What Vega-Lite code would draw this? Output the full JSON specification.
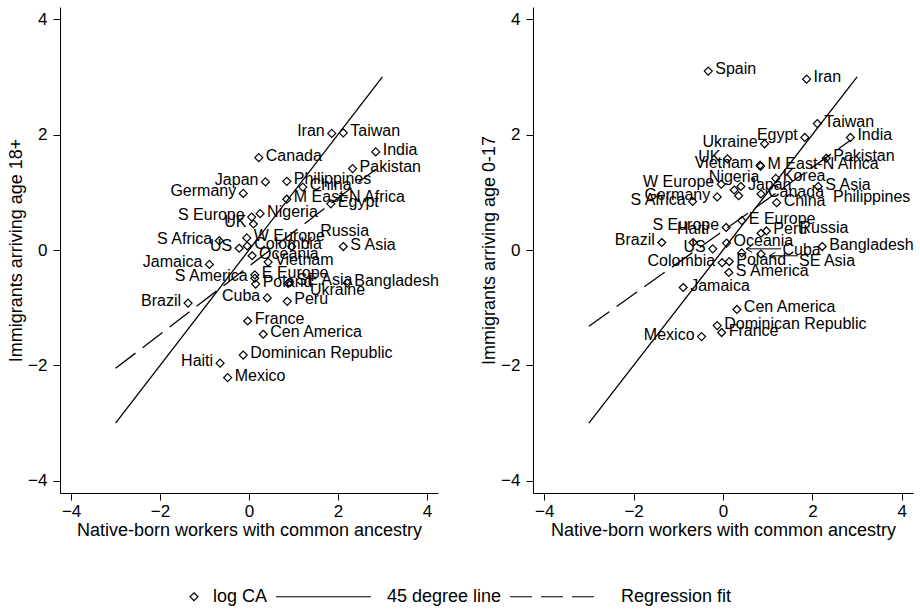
{
  "$schema": "https://vega.github.io/schema/vega-lite/v6.json",
  "padding": {"left": 7, "top": 7, "right": 0, "bottom": 0},
  "spacing": 95,
  "bounds": "flush",
  "datasets": {
    "pts": [
      {"p": "18+", "c": "Iran", "x": 1.86, "y": 2.02, "pos": 9},
      {"p": "18+", "c": "Taiwan", "x": 2.12, "y": 2.03, "pos": 3},
      {"p": "18+", "c": "India", "x": 2.85, "y": 1.70, "pos": 3},
      {"p": "18+", "c": "Canada", "x": 0.22, "y": 1.60, "pos": 3},
      {"p": "18+", "c": "Pakistan", "x": 2.33, "y": 1.41, "pos": 3},
      {"p": "18+", "c": "Japan", "x": 0.37, "y": 1.18, "pos": 9},
      {"p": "18+", "c": "Philippines", "x": 0.85, "y": 1.19, "pos": 3},
      {"p": "18+", "c": "China", "x": 1.21, "y": 1.09, "pos": 3},
      {"p": "18+", "c": "Germany", "x": -0.13, "y": 0.98, "pos": 9},
      {"p": "18+", "c": "M East-N Africa", "x": 0.85, "y": 0.88, "pos": 3},
      {"p": "18+", "c": "Egypt", "x": 1.84, "y": 0.80, "pos": 3},
      {"p": "18+", "c": "S Europe", "x": 0.06, "y": 0.57, "pos": 9},
      {"p": "18+", "c": "Nigeria", "x": 0.25, "y": 0.63, "pos": 3},
      {"p": "18+", "c": "UK", "x": 0.10, "y": 0.45, "pos": 9},
      {"p": "18+", "c": "W Europe", "x": -0.05, "y": 0.21, "pos": 3},
      {"p": "18+", "c": "Russia", "x": 0.96, "y": 0.06, "pos": 0},
      {"p": "18+", "c": "S Africa", "x": -0.67, "y": 0.16, "pos": 9},
      {"p": "18+", "c": "S Asia", "x": 2.12, "y": 0.06, "pos": 3},
      {"p": "18+", "c": "Colombia", "x": -0.04, "y": 0.07, "pos": 3},
      {"p": "18+", "c": "US", "x": -0.22, "y": 0.03, "pos": 9},
      {"p": "18+", "c": "Oceania", "x": 0.07, "y": -0.10, "pos": 3},
      {"p": "18+", "c": "Jamaica", "x": -0.89, "y": -0.25, "pos": 9},
      {"p": "18+", "c": "Vietnam", "x": 0.43, "y": -0.21, "pos": 3},
      {"p": "18+", "c": "E Europe", "x": 0.13, "y": -0.43, "pos": 3},
      {"p": "18+", "c": "S America", "x": 0.13, "y": -0.49, "pos": 9},
      {"p": "18+", "c": "SE Asia", "x": 0.91, "y": -0.56, "pos": 3},
      {"p": "18+", "c": "Ukraine", "x": 0.88, "y": -0.58, "pos": 0},
      {"p": "18+", "c": "Bangladesh", "x": 2.21, "y": -0.57, "pos": 3},
      {"p": "18+", "c": "Poland", "x": 0.15, "y": -0.59, "pos": 3},
      {"p": "18+", "c": "Cuba", "x": 0.41, "y": -0.83, "pos": 9},
      {"p": "18+", "c": "Peru", "x": 0.86, "y": -0.89, "pos": 3},
      {"p": "18+", "c": "Brazil", "x": -1.37, "y": -0.92, "pos": 9},
      {"p": "18+", "c": "France", "x": -0.03, "y": -1.23, "pos": 3},
      {"p": "18+", "c": "Cen America", "x": 0.32, "y": -1.46, "pos": 3},
      {"p": "18+", "c": "Dominican Republic", "x": -0.13, "y": -1.82, "pos": 3},
      {"p": "18+", "c": "Haiti", "x": -0.65, "y": -1.96, "pos": 9},
      {"p": "18+", "c": "Mexico", "x": -0.48, "y": -2.21, "pos": 3},
      {"p": "0-17", "c": "Spain", "x": -0.33, "y": 3.10, "pos": 3},
      {"p": "0-17", "c": "Iran", "x": 1.87, "y": 2.96, "pos": 3},
      {"p": "0-17", "c": "Taiwan", "x": 2.11, "y": 2.19, "pos": 3},
      {"p": "0-17", "c": "Egypt", "x": 1.83, "y": 1.95, "pos": 9},
      {"p": "0-17", "c": "India", "x": 2.85, "y": 1.95, "pos": 3},
      {"p": "0-17", "c": "Ukraine", "x": 0.93, "y": 1.84, "pos": 9},
      {"p": "0-17", "c": "Pakistan", "x": 2.31, "y": 1.59, "pos": 3},
      {"p": "0-17", "c": "UK", "x": 0.10, "y": 1.58, "pos": 9},
      {"p": "0-17", "c": "Vietnam", "x": 0.83, "y": 1.47, "pos": 9},
      {"p": "0-17", "c": "M East-N Africa", "x": 0.84, "y": 1.45, "pos": 3},
      {"p": "0-17", "c": "Korea", "x": 1.18, "y": 1.24, "pos": 3},
      {"p": "0-17", "c": "S Asia", "x": 2.13, "y": 1.10, "pos": 3},
      {"p": "0-17", "c": "W Europe", "x": -0.04, "y": 1.14, "pos": 9},
      {"p": "0-17", "c": "Nigeria", "x": 0.25, "y": 1.04, "pos": 12},
      {"p": "0-17", "c": "Japan", "x": 0.40, "y": 1.10, "pos": 3},
      {"p": "0-17", "c": "Germany", "x": -0.13, "y": 0.92, "pos": 9},
      {"p": "0-17", "c": "S Africa", "x": -0.68, "y": 0.84, "pos": 9},
      {"p": "0-17", "c": "Canada", "x": 0.85, "y": 0.97, "pos": 3},
      {"p": "0-17", "c": "Philippines", "x": 0.35, "y": 0.94, "pos": 0},
      {"p": "0-17", "c": "China", "x": 1.20, "y": 0.82, "pos": 3},
      {"p": "0-17", "c": "S Europe", "x": 0.07, "y": 0.39, "pos": 9},
      {"p": "0-17", "c": "E Europe", "x": 0.42, "y": 0.51, "pos": 3},
      {"p": "0-17", "c": "Haiti", "x": -0.67, "y": 0.13, "pos": 12},
      {"p": "0-17", "c": "Brazil", "x": -1.37, "y": 0.13, "pos": 9},
      {"p": "0-17", "c": "Peru", "x": 0.97, "y": 0.33, "pos": 3},
      {"p": "0-17", "c": "Russia", "x": 0.85, "y": 0.29, "pos": 0},
      {"p": "0-17", "c": "Oceania", "x": 0.08, "y": 0.12, "pos": 3},
      {"p": "0-17", "c": "US", "x": -0.23, "y": 0.02, "pos": 9},
      {"p": "0-17", "c": "Cuba", "x": 0.42, "y": -0.05, "pos": 0},
      {"p": "0-17", "c": "SE Asia", "x": 0.85, "y": -0.07, "pos": 0},
      {"p": "0-17", "c": "Bangladesh", "x": 2.22, "y": 0.06, "pos": 3},
      {"p": "0-17", "c": "Colombia", "x": -0.02, "y": -0.22, "pos": 9},
      {"p": "0-17", "c": "Poland", "x": 0.14, "y": -0.20, "pos": 3},
      {"p": "0-17", "c": "S America", "x": 0.13, "y": -0.39, "pos": 3},
      {"p": "0-17", "c": "Jamaica", "x": -0.89, "y": -0.65, "pos": 3},
      {"p": "0-17", "c": "Cen America", "x": 0.31, "y": -1.03, "pos": 3},
      {"p": "0-17", "c": "Dominican Republic", "x": -0.13, "y": -1.31, "pos": 3},
      {"p": "0-17", "c": "France", "x": -0.03, "y": -1.43, "pos": 3},
      {"p": "0-17", "c": "Mexico", "x": -0.48, "y": -1.50, "pos": 9}
    ],
    "tags": [
      {"p": "18+", "c": "Russia", "x": 1.60, "y": 0.33},
      {"p": "18+", "c": "Ukraine", "x": 1.37, "y": -0.69},
      {"p": "0-17", "c": "Russia", "x": 1.71, "y": 0.38},
      {"p": "0-17", "c": "Philippines", "x": 2.46, "y": 0.92},
      {"p": "0-17", "c": "Cuba", "x": 1.33, "y": 0.0},
      {"p": "0-17", "c": "SE Asia", "x": 1.70, "y": -0.19}
    ],
    "arrows": [
      {"p": "0-17", "c": "Cuba", "x": 0.52, "y": 0.02, "x2": 1.30, "y2": 0.02},
      {"p": "0-17", "c": "SE Asia", "x": 1.04, "y": -0.10, "x2": 1.68, "y2": -0.10}
    ],
    "lines": [
      {"p": "18+", "s": "45 degree line", "x": -3, "y": -3},
      {"p": "18+", "s": "45 degree line", "x": 3, "y": 3},
      {"p": "18+", "s": "Regression fit", "x": -3, "y": -2.05},
      {"p": "18+", "s": "Regression fit", "x": 2.85, "y": 1.40},
      {"p": "0-17", "s": "45 degree line", "x": -3, "y": -3},
      {"p": "0-17", "s": "45 degree line", "x": 3, "y": 3},
      {"p": "0-17", "s": "Regression fit", "x": -3, "y": -1.32},
      {"p": "0-17", "s": "Regression fit", "x": 2.85, "y": 1.90}
    ]
  },
  "resolve": {"scale": {"shape": "shared"}, "legend": {"shape": "shared"}},
  "hconcat": [
    {
      "width": 378,
      "height": 486,
      "encoding": {
        "x": {"field": "x", "type": "quantitative", "scale": {"domain": [-4.25, 4.25], "nice": false, "zero": false}, "axis": {"values": [-4, -2, 0, 2, 4], "title": "Native-born workers with common ancestry"}},
        "y": {"field": "y", "type": "quantitative", "scale": {"domain": [-4.21, 4.21], "nice": false, "zero": false}, "axis": {"values": [-4, -2, 0, 2, 4], "title": "Immigrants arriving age 18+"}}
      },
      "layer": [
        {"data": {"name": "lines"}, "transform": [{"filter": "datum.p === '18+' && datum.s === '45 degree line'"}], "mark": {"type": "line", "color": "black", "strokeWidth": 1.3}},
        {"data": {"name": "lines"}, "transform": [{"filter": "datum.p === '18+' && datum.s === 'Regression fit'"}], "mark": {"type": "line", "color": "black", "strokeWidth": 1.3, "strokeDash": [25, 9]}},
        {"data": {"name": "pts"}, "transform": [{"filter": "datum.p === '18+'"}], "mark": {"type": "point", "filled": false, "stroke": "black", "strokeWidth": 1.2, "opacity": 1, "size": 9025, "xOffset": -44.5},
         "encoding": {"shape": {"datum": "log CA", "type": "nominal", "scale": {"domain": ["log CA", "45 degree line", "Regression fit"], "range": ["M0.937,-0.084L1.021,0L0.937,0.084L0.853,0Z", "M-1,0H1", "M-1,0H-0.537M-0.347,0H0.116M0.305,0H0.768"]},
           "legend": {"title": null, "orient": "none", "legendX": 41, "legendY": 541, "direction": "horizontal", "columns": 3, "symbolSize": 9025, "labelOffset": 15, "columnPadding": 5, "labelFontSize": 18, "labelFont": "Liberation Sans", "labelColor": "black", "symbolStrokeWidth": 1.2, "symbolStrokeColor": "black", "symbolFillColor": "transparent", "symbolOpacity": 1, "padding": 0}}}},
        {"data": {"name": "pts"}, "transform": [{"filter": "datum.p === '18+' && datum.pos === 3"}], "mark": {"type": "text", "align": "left", "baseline": "middle", "dx": 7, "dy": -2}, "encoding": {"text": {"field": "c"}}},
        {"data": {"name": "pts"}, "transform": [{"filter": "datum.p === '18+' && datum.pos === 9"}], "mark": {"type": "text", "align": "right", "baseline": "middle", "dx": -7, "dy": -2}, "encoding": {"text": {"field": "c"}}},
        {"data": {"name": "tags"}, "transform": [{"filter": "datum.p === '18+'"}], "mark": {"type": "text", "align": "left", "baseline": "middle"}, "encoding": {"text": {"field": "c"}}}
      ]
    },
    {
      "width": 380,
      "height": 486,
      "encoding": {
        "x": {"field": "x", "type": "quantitative", "scale": {"domain": [-4.25, 4.25], "nice": false, "zero": false}, "axis": {"values": [-4, -2, 0, 2, 4], "title": "Native-born workers with common ancestry"}},
        "y": {"field": "y", "type": "quantitative", "scale": {"domain": [-4.21, 4.21], "nice": false, "zero": false}, "axis": {"values": [-4, -2, 0, 2, 4], "title": "Immigrants arriving age 0-17"}}
      },
      "layer": [
        {"data": {"name": "lines"}, "transform": [{"filter": "datum.p === '0-17' && datum.s === '45 degree line'"}], "mark": {"type": "line", "color": "black", "strokeWidth": 1.3}},
        {"data": {"name": "lines"}, "transform": [{"filter": "datum.p === '0-17' && datum.s === 'Regression fit'"}], "mark": {"type": "line", "color": "black", "strokeWidth": 1.3, "strokeDash": [25, 9]}},
        {"data": {"name": "arrows"}, "mark": {"type": "rule", "color": "black", "strokeWidth": 1}, "encoding": {"x2": {"field": "x2"}, "y2": {"field": "y2"}}},
        {"data": {"name": "arrows"}, "mark": {"type": "point", "filled": false, "stroke": "black", "strokeWidth": 1, "opacity": 1, "size": 64, "shape": "M1.5,-0.9L0,0L1.5,0.9"}},
        {"data": {"name": "pts"}, "transform": [{"filter": "datum.p === '0-17'"}], "mark": {"type": "point", "filled": false, "stroke": "black", "strokeWidth": 1.2, "opacity": 1, "size": 9025, "xOffset": -44.5},
         "encoding": {"shape": {"datum": "log CA", "type": "nominal", "scale": {"domain": ["log CA", "45 degree line", "Regression fit"], "range": ["M0.937,-0.084L1.021,0L0.937,0.084L0.853,0Z", "M-1,0H1", "M-1,0H-0.537M-0.347,0H0.116M0.305,0H0.768"]},
           "legend": {"title": null, "orient": "none", "legendX": 41, "legendY": 541, "direction": "horizontal", "columns": 3, "symbolSize": 9025, "labelOffset": 15, "columnPadding": 5, "labelFontSize": 18, "labelFont": "Liberation Sans", "labelColor": "black", "symbolStrokeWidth": 1.2, "symbolStrokeColor": "black", "symbolFillColor": "transparent", "symbolOpacity": 1, "padding": 0}}}},
        {"data": {"name": "pts"}, "transform": [{"filter": "datum.p === '0-17' && datum.pos === 3"}], "mark": {"type": "text", "align": "left", "baseline": "middle", "dx": 7, "dy": -2}, "encoding": {"text": {"field": "c"}}},
        {"data": {"name": "pts"}, "transform": [{"filter": "datum.p === '0-17' && datum.pos === 9"}], "mark": {"type": "text", "align": "right", "baseline": "middle", "dx": -7, "dy": -2}, "encoding": {"text": {"field": "c"}}},
        {"data": {"name": "pts"}, "transform": [{"filter": "datum.p === '0-17' && datum.pos === 12"}], "mark": {"type": "text", "align": "center", "baseline": "middle", "dy": -13}, "encoding": {"text": {"field": "c"}}},
        {"data": {"name": "tags"}, "transform": [{"filter": "datum.p === '0-17'"}], "mark": {"type": "text", "align": "left", "baseline": "middle"}, "encoding": {"text": {"field": "c"}}}
      ]
    }
  ],
  "config": {
    "font": "Liberation Sans",
    "view": {"stroke": null},
    "axis": {"domainColor": "black", "tickColor": "black", "labelColor": "black", "titleColor": "black", "labelFontSize": 17, "titleFontSize": 18, "titleFontWeight": "normal", "tickSize": 7, "grid": false, "labelFont": "Liberation Sans", "titleFont": "Liberation Sans", "domainWidth": 1, "tickWidth": 1, "labelFlush": false},
    "axisY": {"titlePadding": 2, "labelPadding": 6},
    "axisX": {"titlePadding": 2, "labelPadding": 3},
    "text": {"font": "Liberation Sans", "fontSize": 16, "color": "black"}
  }
}
